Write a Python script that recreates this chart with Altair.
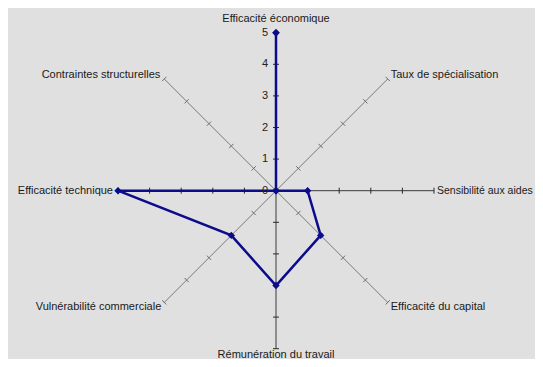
import altair as alt
import pandas as pd
import numpy as np

categories = ["Efficacité économique", "Taux de spécialisation", "Sensibilité aux aides",
              "Efficacité du capital", "Rémunération du travail", "Vulnérabilité commerciale",
              "Efficacité technique", "Contraintes structurelles"]
values = [5, 0, 1, 2, 3, 2, 5, 0]
scale_ticks = [0, 1, 2, 3, 4, 5]
rmax = 5

W, H = 527, 351
K = 31.6          # pixels per unit
cx, cy = 268, 182.7
xdom = [-cx / K, (W - cx) / K]
ydom = [-(H - cy) / K, cy / K]
X = dict(scale=alt.Scale(domain=xdom, nice=False, zero=False), axis=None)
Y = dict(scale=alt.Scale(domain=ydom, nice=False, zero=False), axis=None)

ang = np.deg2rad(90 - 45 * np.arange(len(categories)))
ux, uy = np.cos(ang), np.sin(ang)

spokes = pd.DataFrame({"cat": categories, "x": 0.0, "y": 0.0,
                       "x2": rmax * ux, "y2": rmax * uy,
                       "kind": ["main" if i % 2 == 0 else "diag" for i in range(len(categories))]})

h = 3 / K
rows = []
for i in range(len(categories)):
    for t in scale_ticks[1:]:
        px, py = t * ux[i], t * uy[i]
        rows.append(dict(x=px - h * (-uy[i]), y=py - h * ux[i],
                         x2=px + h * (-uy[i]), y2=py + h * ux[i],
                         kind="main" if i % 2 == 0 else "diag"))
ticks = pd.DataFrame(rows)

vals = np.array(values, dtype=float)
poly = pd.DataFrame({"x": list(vals * ux) + [vals[0] * ux[0]],
                     "y": list(vals * uy) + [vals[0] * uy[0]],
                     "o": list(range(len(values) + 1))})

def rules(df, color):
    return alt.Chart(df).mark_rule(color=color, strokeWidth=1).encode(
        x=alt.X("x:Q", **X), y=alt.Y("y:Q", **Y), x2="x2:Q", y2="y2:Q")

layers = [
    rules(spokes[spokes.kind == "diag"], "#7a7a7a"),
    rules(ticks[ticks.kind == "diag"], "#6a6a6a"),
    rules(spokes[spokes.kind == "main"], "#3a3a3a"),
    rules(ticks[ticks.kind == "main"], "#2a2a2a"),
]

line_color = "#0b0b8c"
layers.append(alt.Chart(poly).mark_line(color=line_color, strokeWidth=2.5).encode(
    x=alt.X("x:Q", **X), y=alt.Y("y:Q", **Y), order="o:Q"))
layers.append(alt.Chart(poly).mark_point(shape="diamond", filled=True, size=55,
                                          color=line_color, opacity=1).encode(
    x=alt.X("x:Q", **X), y=alt.Y("y:Q", **Y)))

tickdf = pd.DataFrame({"x": 0.0, "y": scale_ticks, "t": [str(t) for t in scale_ticks]})
layers.append(alt.Chart(tickdf).mark_text(align="right", baseline="middle", dx=-8,
                                          font="Liberation Sans", fontSize=11,
                                          color="#222222").encode(
    x=alt.X("x:Q", **X), y=alt.Y("y:Q", **Y), text="t:N"))

label_style = [
    dict(align="center", dx=0, dy=-14, baseline="middle", fontSize=11),
    dict(align="left", dx=3, dy=-4, baseline="middle", fontSize=11),
    dict(align="left", dx=3, dy=0, baseline="middle", fontSize=10.5),
    dict(align="left", dx=3, dy=5, baseline="middle", fontSize=11),
    dict(align="center", dx=0, dy=9, baseline="alphabetic", fontSize=11),
    dict(align="right", dx=-3, dy=5, baseline="middle", fontSize=11),
    dict(align="right", dx=-5, dy=0, baseline="middle", fontSize=11),
    dict(align="right", dx=-4, dy=-4, baseline="middle", fontSize=11),
]
for i, cat in enumerate(categories):
    d = pd.DataFrame({"x": [rmax * ux[i]], "y": [rmax * uy[i]], "t": [cat]})
    st = label_style[i]
    layers.append(alt.Chart(d).mark_text(font="Liberation Sans",
                                         color="#1a1a1a", **st).encode(
        x=alt.X("x:Q", **X), y=alt.Y("y:Q", **Y), text="t:N"))

chart = alt.layer(*layers).properties(
    width=W, height=H, autosize=alt.AutoSizeParams(type="none"), padding=0
).configure(background="#e0e0e0").configure_view(stroke=None)

chart.save("out.html", embed_options={"renderer": "svg", "actions": False})
